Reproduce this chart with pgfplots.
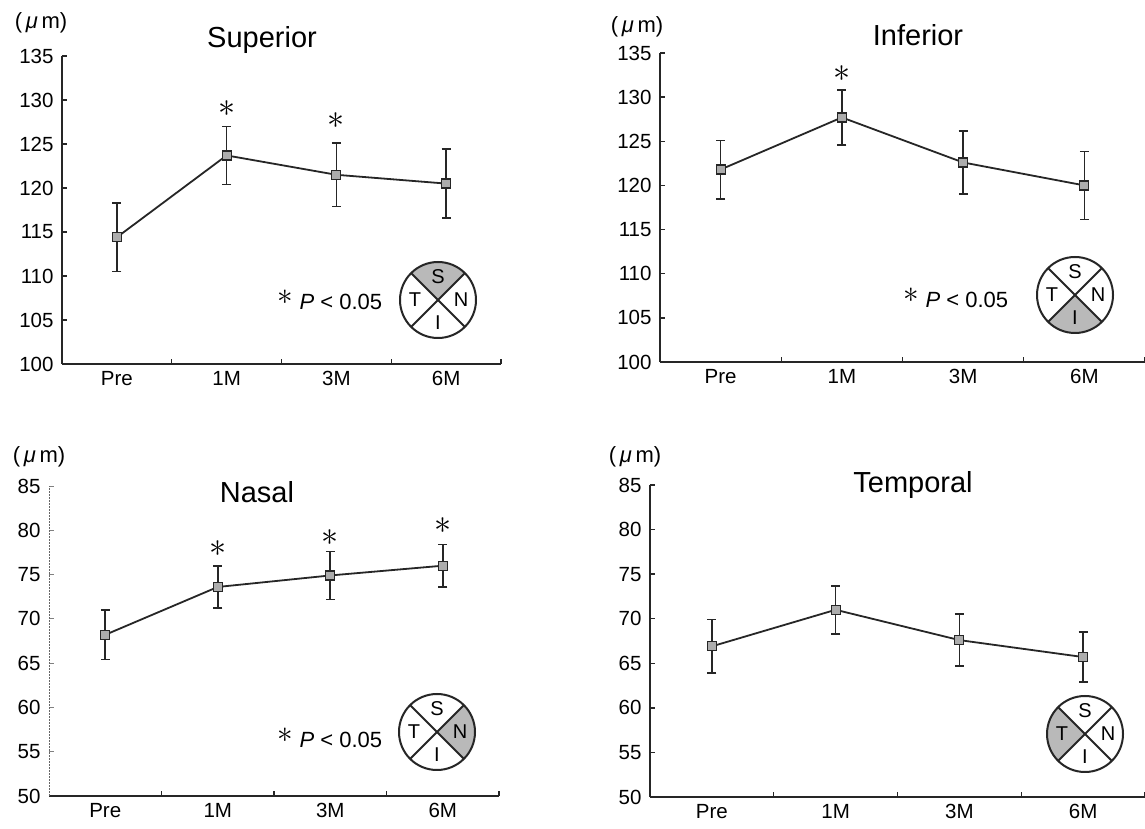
\documentclass[border=0pt]{standalone}
\usepackage{fontspec}
\setmainfont{Liberation Sans}
\usepackage{pgfplots}
\pgfplotsset{compat=1.18}

\pgfplotsset{
  rnfl/.style={
    scale only axis,
    axis x line=bottom, axis y line=left,
    axis line style={-, line width=2pt, black!85},
    xmin=-0.5, xmax=3.5,
    xtick={0,1,2,3}, xticklabels={Pre,1M,3M,6M},
    minor xtick={0.5,1.5,2.5,3.5},
    major x tick style={draw=none},
    minor x tick style={line width=1.4pt, black!85},
    minor tick length=5pt,
    major tick length=5pt,
    tick align=inside,
    ytick distance=5,
    y tick style={line width=1.4pt, black!85},
    tick label style={font=\fontsize{20.5}{20.5}\selectfont, black},
    /pgf/number format/assume math mode=true,
    xticklabel style={yshift=-4pt},
    yticklabel style={xshift=-5pt},
    clip=false,
  },
  dat/.style={black!85, line width=1.8pt, mark=square*, mark size=4.5pt,
    mark options={fill=gray!65, draw=black!85, line width=1.2pt, solid},
    error bars/.cd, y dir=both, y explicit,
    error bar style={line width=1.7pt, black!85},
    error mark options={rotate=90, mark size=4.5pt, line width=1.7pt, black!85}},
}

\newcommand{\sig}{\scalebox{3.4}{$\ast$}}
\newcommand{\sectoricon}[3]{%
  \begin{scope}[shift={(#1pt,#2pt)}]
    \fill[gray!55] (0,0) -- (#3:38pt) arc[start angle=#3, end angle={#3+90}, radius=38pt] -- cycle;
    \draw[line width=2pt, black!85] (0,0) circle[radius=38pt];
    \draw[line width=2pt, black!85] (45:38pt) -- (225:38pt) (135:38pt) -- (315:38pt);
    \node[font=\fontsize{20}{20}\selectfont] at (90:23pt) {S};
    \node[font=\fontsize{20}{20}\selectfont] at (180:23pt) {T};
    \node[font=\fontsize{20}{20}\selectfont] at (0:23pt) {N};
    \node[font=\fontsize{20}{20}\selectfont] at (270:23pt) {I};
  \end{scope}}
\newcommand{\pval}{{\raisebox{0.45ex}{\scalebox{1.5}{$\ast$}}}\ \textit{P} < 0.05}

\pgfplotstableread{
x y e
0 114.4 3.9
1 123.7 3.3
2 121.5 3.6
3 120.5 3.9
}\superior
\pgfplotstableread{
x y e
0 121.8 3.3
1 127.7 3.1
2 122.6 3.55
3 120.0 3.85
}\inferior
\pgfplotstableread{
x y e
0 68.2 2.8
1 73.6 2.4
2 74.9 2.7
3 76.0 2.4
}\nasal
\pgfplotstableread{
x y e
0 66.9 3.0
1 71.0 2.7
2 67.6 2.9
3 65.7 2.8
}\temporal

\begin{document}
\begin{tikzpicture}
\path[use as bounding box, fill=white] (0pt,0pt) rectangle (1145pt,829pt);

% Superior
\begin{axis}[rnfl, at={(62pt,465pt)}, anchor=south west, width=439pt, height=308pt, ymin=100, ymax=135]
\addplot[dat] table[x=x, y=y, y error=e] {\superior};
\node[anchor=north, inner sep=0pt] at (axis cs:1,130.0) {\sig};
\node[anchor=north, inner sep=0pt] at (axis cs:2,128.6) {\sig};
\end{axis}

% Inferior
\begin{axis}[rnfl, at={(660pt,467pt)}, anchor=south west, width=485pt, height=309pt, ymin=100, ymax=135]
\addplot[dat] table[x=x, y=y, y error=e] {\inferior};
\node[anchor=north, inner sep=0pt] at (axis cs:1,133.6) {\sig};
\end{axis}

% Nasal
\begin{axis}[rnfl, at={(49pt,33pt)}, anchor=south west, width=450pt, height=310pt, ymin=50, ymax=85,
  y axis line style={densely dotted, line width=1pt, black!60}, y tick style={line width=0.8pt, black!50}]
\addplot[dat] table[x=x, y=y, y error=e] {\nasal};
\node[anchor=north, inner sep=0pt] at (axis cs:1,78.9) {\sig};
\node[anchor=north, inner sep=0pt] at (axis cs:2,80.1) {\sig};
\node[anchor=north, inner sep=0pt] at (axis cs:3,81.5) {\sig};
\end{axis}

% Temporal
\begin{axis}[rnfl, at={(650pt,32pt)}, anchor=south west, width=495pt, height=312pt, ymin=50, ymax=85]
\addplot[dat] table[x=x, y=y, y error=e] {\temporal};
\end{axis}

% titles
\node[font=\fontsize{29}{29}\selectfont] at (262pt,789pt) {Superior};
\node[font=\fontsize{29}{29}\selectfont] at (918pt,794pt) {Inferior};
\node[font=\fontsize{29}{29}\selectfont] at (257pt,337pt) {Nasal};
\node[font=\fontsize{29}{29}\selectfont] at (913pt,344pt) {Temporal};

% unit labels
\node[font=\fontsize{22}{22}\selectfont] at (41pt,806pt) {(\,\textit{μ}\,m)};
\node[font=\fontsize{22}{22}\selectfont] at (637pt,802pt) {(\,\textit{μ}\,m)};
\node[font=\fontsize{22}{22}\selectfont] at (39pt,372pt) {(\,\textit{μ}\,m)};
\node[font=\fontsize{22}{22}\selectfont] at (635pt,372pt) {(\,\textit{μ}\,m)};

% p-value notes
\node[font=\fontsize{22}{22}\selectfont] at (330pt,529pt) {\pval};
\node[font=\fontsize{22}{22}\selectfont] at (956pt,531pt) {\pval};
\node[font=\fontsize{22}{22}\selectfont] at (330pt,91pt) {\pval};

% sector icons
\sectoricon{438}{529}{45}
\sectoricon{1075}{534}{225}
\sectoricon{437}{97}{-45}
\sectoricon{1085}{95}{135}
\end{tikzpicture}
\end{document}
